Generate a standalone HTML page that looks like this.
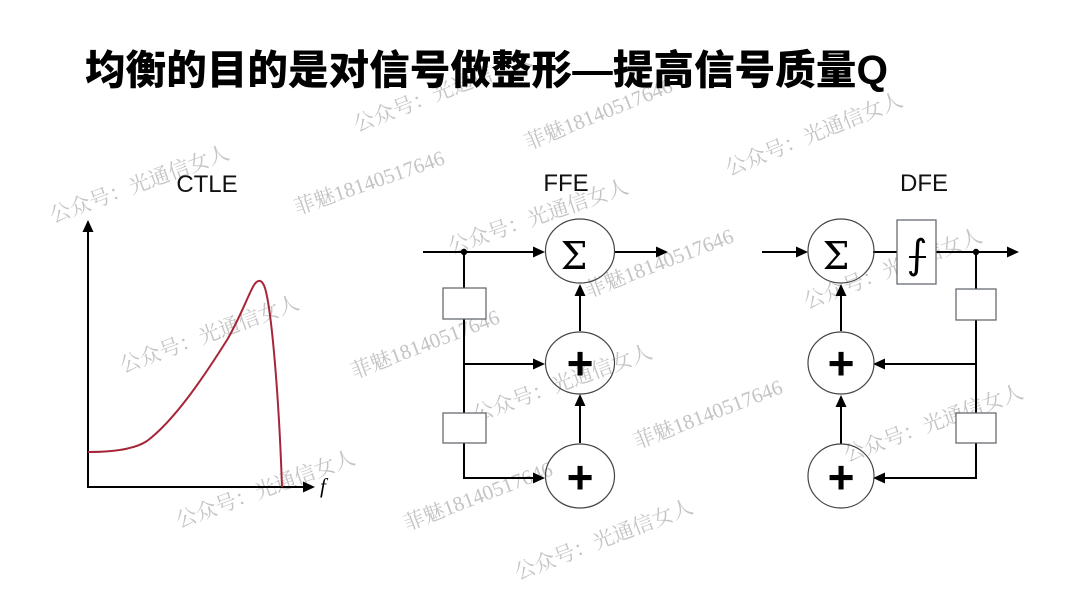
<!DOCTYPE html>
<html>
<head>
<meta charset="utf-8">
<style>
html,body{margin:0;padding:0;background:#fff;}
body{width:1080px;height:607px;overflow:hidden;}
svg{display:block;}
.wm{font-family:"Liberation Serif","Noto Serif CJK SC",serif;font-size:21px;fill:#c4c4c4;}
.lbl{font-family:"Liberation Sans","Noto Sans CJK SC",sans-serif;font-size:24px;fill:#111;}
.title{font-family:"Liberation Sans","Noto Sans CJK SC",sans-serif;font-size:40.5px;font-weight:900;fill:#000;}
.sig{font-family:"DejaVu Serif","Liberation Serif",serif;font-size:38px;fill:#000;}
.plus{font-family:"Liberation Sans","DejaVu Sans",sans-serif;font-size:46px;font-weight:bold;fill:#000;}
</style>
</head>
<body>
<svg width="1080" height="607" viewBox="0 0 1080 607" xmlns="http://www.w3.org/2000/svg">
  <rect width="1080" height="607" fill="#fff"/>

  <!-- watermarks -->
  <g class="wm">
    <text transform="translate(53,223) rotate(-20)">公众号：光通信女人</text>
    <text transform="translate(357,132) rotate(-21)">公众号：光通信女人</text>
    <text transform="translate(729,176) rotate(-22)">公众号：光通信女人</text>
    <text transform="translate(451,254) rotate(-19)">公众号：光通信女人</text>
    <text transform="translate(123,373) rotate(-20)">公众号：光通信女人</text>
    <text transform="translate(807,309) rotate(-21)">公众号：光通信女人</text>
    <text transform="translate(476,422) rotate(-20)">公众号：光通信女人</text>
    <text transform="translate(847,462) rotate(-20)">公众号：光通信女人</text>
    <text transform="translate(179,528) rotate(-20)">公众号：光通信女人</text>
    <text transform="translate(518,580) rotate(-21)">公众号：光通信女人</text>
    <text transform="translate(297,215) rotate(-19)">菲魅18140517646</text>
    <text transform="translate(528,150) rotate(-22)">菲魅18140517646</text>
    <text transform="translate(588,298) rotate(-21)">菲魅18140517646</text>
    <text transform="translate(354,379) rotate(-21)">菲魅18140517646</text>
    <text transform="translate(637,449) rotate(-21)">菲魅18140517646</text>
    <text transform="translate(407,531) rotate(-21)">菲魅18140517646</text>
  </g>

  <!-- title -->
  <text class="title" x="85" y="84" textLength="803" lengthAdjust="spacing">均衡的目的是对信号做整形—提高信号质量Q</text>

  <!-- labels -->
  <text class="lbl" x="207" y="192" text-anchor="middle">CTLE</text>
  <text class="lbl" x="566" y="191" text-anchor="middle">FFE</text>
  <text class="lbl" x="924" y="191" text-anchor="middle">DFE</text>

  <!-- CTLE -->
  <g stroke="#000" stroke-width="2" fill="none">
    <line x1="88" y1="229" x2="88" y2="488"/>
    <line x1="87" y1="487" x2="304" y2="487"/>
  </g>
  <polygon points="88,220 82.5,232 93.5,232" fill="#000"/>
  <polygon points="315,487 303,481.5 303,492.5" fill="#000"/>
  <path d="M88,452 C115,452 135,449 147,441 C175,420 205,375 227,340 C240,318 249,293 254,285 C258,279 262,279 265,288 C272,312 279,400 282,487" fill="none" stroke="#a62639" stroke-width="2"/>
  <text x="320" y="493" font-family="Liberation Serif, serif" font-style="italic" font-size="21" fill="#000">f</text>

  <!-- FFE -->
  <g stroke="#000" stroke-width="2" fill="none">
    <line x1="423" y1="252" x2="535" y2="252"/>
    <line x1="464" y1="252" x2="464" y2="478"/>
    <line x1="463" y1="364" x2="535" y2="364"/>
    <line x1="463" y1="478" x2="535" y2="478"/>
    <line x1="614" y1="252" x2="657" y2="252"/>
    <line x1="580" y1="443" x2="580" y2="404"/>
    <line x1="580" y1="331" x2="580" y2="293"/>
  </g>
  <circle cx="464" cy="252" r="3.2" fill="#000"/>
  <polygon points="545,252 533,246.5 533,257.5" fill="#000"/>
  <polygon points="545,364 533,358.5 533,369.5" fill="#000"/>
  <polygon points="545,478 533,472.5 533,483.5" fill="#000"/>
  <polygon points="668,252 656,246.5 656,257.5" fill="#000"/>
  <polygon points="580,394 574.5,406 585.5,406" fill="#000"/>
  <polygon points="580,284 574.5,296 585.5,296" fill="#000"/>
  <g fill="#fff" stroke="#5b6068" stroke-width="1.2">
    <rect x="443" y="288" width="43" height="31"/>
    <rect x="443" y="413" width="43" height="30"/>
  </g>
  <g fill="none" stroke="#444" stroke-width="1.2">
    <ellipse cx="580" cy="251" rx="34.5" ry="32"/>
    <ellipse cx="580" cy="363" rx="34.5" ry="31"/>
    <ellipse cx="580" cy="476" rx="34.5" ry="32"/>
  </g>
  <text class="sig" x="574" y="269" text-anchor="middle">Σ</text>
  <text class="plus" x="580" y="379" text-anchor="middle">+</text>
  <text class="plus" x="580" y="493" text-anchor="middle">+</text>

  <!-- DFE -->
  <g stroke="#000" stroke-width="2" fill="none">
    <line x1="762" y1="252" x2="798" y2="252"/>
    <line x1="873" y1="252" x2="897" y2="252"/>
    <line x1="936" y1="252" x2="1007" y2="252"/>
    <line x1="976" y1="252" x2="976" y2="479"/>
    <line x1="977" y1="364" x2="883" y2="364"/>
    <line x1="977" y1="478" x2="883" y2="478"/>
    <line x1="841" y1="444" x2="841" y2="405"/>
    <line x1="841" y1="331" x2="841" y2="293"/>
  </g>
  <circle cx="976" cy="252" r="3.2" fill="#000"/>
  <polygon points="808,252 796,246.5 796,257.5" fill="#000"/>
  <polygon points="1019,252 1007,246.5 1007,257.5" fill="#000"/>
  <polygon points="873,364 885,358.5 885,369.5" fill="#000"/>
  <polygon points="873,478 885,472.5 885,483.5" fill="#000"/>
  <polygon points="841,395 835.5,407 846.5,407" fill="#000"/>
  <polygon points="841,284 835.5,296 846.5,296" fill="#000"/>
  <g fill="#fff" stroke="#5b6068" stroke-width="1.2">
    <rect x="897" y="220" width="39" height="64"/>
    <rect x="956" y="289" width="40" height="31"/>
    <rect x="956" y="413" width="40" height="30"/>
  </g>
  <g fill="none" stroke="#444" stroke-width="1.2">
    <ellipse cx="841" cy="251" rx="33" ry="32"/>
    <ellipse cx="841" cy="363" rx="33" ry="31"/>
    <ellipse cx="841" cy="476" rx="33" ry="32"/>
  </g>
  <text class="sig" x="836" y="269" text-anchor="middle">Σ</text>
  <text x="917" y="268" text-anchor="middle" font-family="DejaVu Sans, sans-serif" font-size="40" fill="#000">∫</text>
  <line x1="909" y1="257" x2="926" y2="257" stroke="#000" stroke-width="2"/>
  <text class="plus" x="841" y="379" text-anchor="middle">+</text>
  <text class="plus" x="841" y="493" text-anchor="middle">+</text>
</svg>
</body>
</html>
